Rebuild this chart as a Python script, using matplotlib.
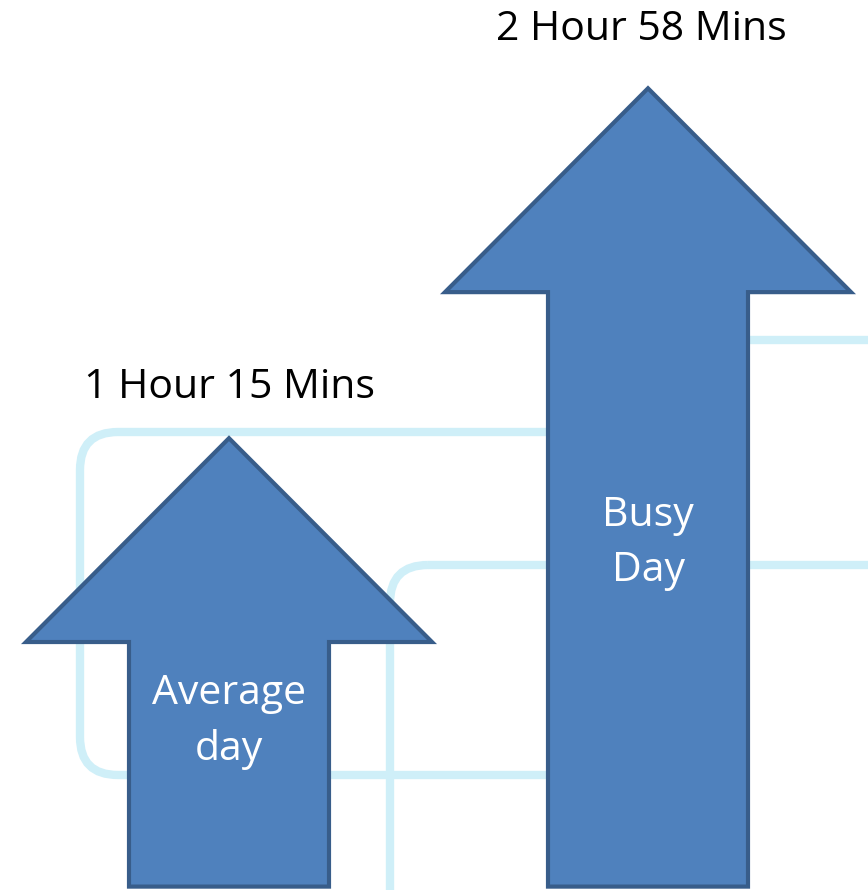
import matplotlib
matplotlib.use("Agg")
import matplotlib.pyplot as plt
from matplotlib.patches import Polygon, FancyBboxPatch

# ---- data ----
categories = [["Average", "day"], ["Busy", "Day"]]
minutes = [75, 178]
value_labels = ["1 Hour 15 Mins", "2 Hour 58 Mins"]

W, H = 868, 890
PX = 0.72  # points per pixel at dpi 100
fig = plt.figure(figsize=(W / 100, H / 100), dpi=100)
fig.patch.set_facecolor("white")

# ---- decorative background (pixel coordinates) ----
bg = fig.add_axes([0, 0, 1, 1])
bg.set_xlim(0, W)
bg.set_ylim(H, 0)
bg.axis("off")
line_c = "#cfeff8"
lw = 6.0
bg.add_patch(FancyBboxPatch((80, 432), 560, 343,
                            boxstyle="round,pad=0,rounding_size=38",
                            fill=False, ec=line_c, lw=lw))
bg.add_patch(FancyBboxPatch((390, 565), 600, 400,
                            boxstyle="round,pad=0,rounding_size=38",
                            fill=False, ec=line_c, lw=lw))
bg.plot([600, 900], [340, 340], color=line_c, lw=lw, solid_capstyle="butt")

# ---- arrows (x in pixels, y in minutes) ----
ax = fig.add_axes([0, 0, 1, 1])
ax.set_xlim(0, W)
ax.set_ylim(-58, 204)
ax.axis("off")
ax.patch.set_alpha(0)

centers = [229, 648]
shaft_half = 100
head_half = 203
head_len = 60  # in minute units
base = -57
# baselines of the inner text lines, pixels below the head base
inner_offsets = [[62, 118], [234, 289]]
label_gap = [40, 48]      # pixels between tip and label baseline
label_dx = [1, -7]        # horizontal nudge of the labels, pixels

fill_c = "#4f81bd"
edge_c = "#385d8a"
font = ["Open Sans", "DejaVu Sans"]
fs = 29.5

for i, (cx, m, cat, lab) in enumerate(zip(centers, minutes, categories, value_labels)):
    hb = m - head_len
    pts = [(cx - shaft_half, base), (cx - shaft_half, hb), (cx - head_half, hb),
           (cx, m), (cx + head_half, hb), (cx + shaft_half, hb),
           (cx + shaft_half, base)]
    ax.add_patch(Polygon(pts, closed=True, fc=fill_c, ec=edge_c, lw=3,
                         joinstyle="miter"))
    ax.annotate(lab, (cx + label_dx[i], m), xytext=(0, label_gap[i] * PX),
                textcoords="offset points", ha="center", va="baseline",
                fontsize=fs, family=font, color="black")
    for word, off in zip(cat, inner_offsets[i]):
        ax.annotate(word, (cx, hb), xytext=(0, -off * PX),
                    textcoords="offset points", ha="center", va="baseline",
                    fontsize=fs, family=font, color="white")

fig.savefig("out.png", dpi=100)
